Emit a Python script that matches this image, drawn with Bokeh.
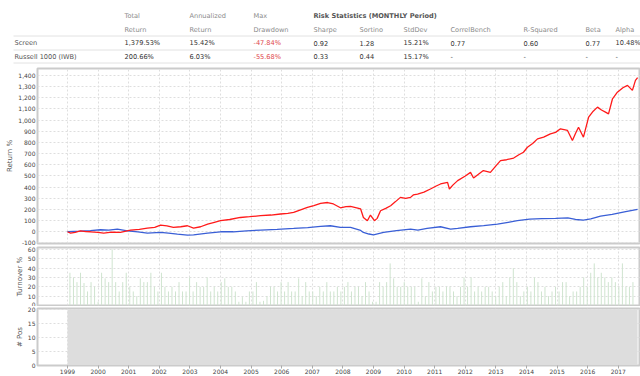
import numpy as np
from bokeh.plotting import figure
from bokeh.layouts import column
from bokeh.models import Range1d, FixedTicker, NumeralTickFormatter, Grid
from bokeh.core.properties import value
from bokeh.embed import file_html
from bokeh.resources import INLINE

FONT = "DejaVu Sans"

# ---------------- data ----------------
YEARS = list(range(1999, 2018))

TABLE_ROWS = ["Screen", "Russell 1000 (IWB)"]
TOTAL_RETURN = ["1,379.53%", "200.66%"]
ANN_RETURN = ["15.42%", "6.03%"]
MAX_DD = ["-47.84%", "-55.68%"]
SHARPE = ["0.92", "0.33"]
SORTINO = ["1.28", "0.44"]
STDDEV = ["15.21%", "15.17%"]
CORREL = ["0.77", "-"]
RSQ = ["0.60", "-"]
BETA = ["0.77", "-"]
ALPHA = ["10.48%", "-"]

SCREEN_T = [1999.00, 1999.10, 1999.25, 1999.42, 1999.60, 1999.75, 2000.00, 2000.18, 2000.45, 2000.73,
            2001.06, 2001.35, 2001.61, 2001.85, 2002.04, 2002.25, 2002.46, 2002.70, 2002.92, 2003.12,
            2003.35, 2003.58, 2003.80, 2004.00, 2004.30, 2004.65, 2004.95, 2005.31, 2005.65, 2005.96,
            2006.20, 2006.39, 2006.55, 2006.84, 2007.05, 2007.27, 2007.50, 2007.69, 2007.92, 2008.10,
            2008.25, 2008.45, 2008.58, 2008.67, 2008.80, 2008.90, 2009.03, 2009.12, 2009.23, 2009.40,
            2009.56, 2009.72, 2009.88, 2010.05, 2010.21, 2010.30, 2010.44, 2010.65, 2010.86, 2011.05,
            2011.19, 2011.42, 2011.48, 2011.60, 2011.75, 2012.00, 2012.17, 2012.27, 2012.45, 2012.59,
            2012.82, 2013.00, 2013.15, 2013.35, 2013.58, 2013.75, 2013.90, 2014.03, 2014.20, 2014.36,
            2014.56, 2014.78, 2014.95, 2015.11, 2015.34, 2015.50, 2015.60, 2015.70, 2015.86, 2016.03,
            2016.18, 2016.32, 2016.45, 2016.58, 2016.68, 2016.81, 2016.97, 2017.15, 2017.30, 2017.46,
            2017.56, 2017.63]
SCREEN_RET = [0, -12, -5, 9, 2, 0, -5, -12, -3, -6,
              15, 22, 33, 40, 60, 52, 39, 45, 54, 33,
              45, 69, 85, 99, 110, 128, 135, 144, 150, 159,
              165, 173, 190, 218, 235, 254, 262, 249, 215, 225,
              228, 215, 204, 128, 99, 150, 99, 120, 188, 210,
              233, 270, 308, 300, 308, 330, 338, 355, 383, 410,
              428, 443, 383, 420, 458, 500, 532, 482, 520, 548,
              532, 590, 637, 645, 660, 690, 712, 757, 790, 832,
              847, 877, 890, 922, 907, 817, 880, 936, 847, 1026,
              1080, 1116, 1090, 1071, 1056, 1191, 1250, 1290, 1311, 1266,
              1356, 1380]

RUSSELL_T = [1999.00, 1999.42, 1999.75, 2000.08, 2000.35, 2000.63, 2000.96, 2001.30, 2001.61, 2002.04,
             2002.30, 2002.59, 2002.92, 2003.12, 2003.58, 2004.00, 2004.42, 2004.85, 2005.31, 2005.85,
             2006.39, 2006.85, 2007.27, 2007.59, 2007.92, 2008.25, 2008.58, 2008.67, 2008.85, 2009.00,
             2009.33, 2009.75, 2010.21, 2010.45, 2010.75, 2011.19, 2011.52, 2011.75, 2012.17, 2012.60,
             2013.05, 2013.40, 2013.70, 2014.10, 2014.50, 2014.95, 2015.35, 2015.60, 2015.86, 2016.10,
             2016.42, 2016.80, 2017.24, 2017.63]
RUSSELL_RET = [0, 5, 10, 18, 15, 24, 9, 0, -12, -5,
               -12, -21, -30, -28, -12, 0, 0, 8, 15, 22,
               30, 38, 48, 54, 39, 39, 12, -6, -20, -27,
               -6, 10, 24, 15, 30, 45, 24, 30, 45, 55,
               69, 85, 99, 114, 118, 120, 125, 110, 105, 115,
               140, 155, 180, 200]

TURNOVER = [35, 30, 25, 35, 24, 15, 25, 20, 4,
            35, 29, 25, 60, 25, 15, 25, 35, 20,
            15, 10, 29, 25, 25, 35, 20, 15,
            35, 20, 15, 20, 15, 25, 15, 15, 30,
            15, 25, 20, 20, 30, 15, 20, 15, 25,
            29, 20, 20, 15, 4, 9, 4, 15,
            15, 25, 4, 5, 10, 20, 20, 15, 25,
            15, 25, 15, 15, 29, 10, 25, 15, 15,
            10, 20, 15, 25, 15, 15, 20, 15,
            20, 25, 15, 20, 20, 10, 25, 15, 4,
            4, 25, 20, 25, 45, 29, 20, 20, 25,
            20, 20, 20, 4, 29, 10, 25, 15,
            20, 20, 15, 20, 20, 15, 10, 20, 30,
            20, 30, 15, 20, 15, 20, 20, 15, 10,
            20, 25, 10, 30, 40, 25, 10, 15,
            20, 15, 30, 25, 15, 20, 10, 15, 20,
            15, 25, 25, 10, 15, 15, 20, 30, 20,
            35, 45, 30, 35, 30, 25, 30, 25,
            20, 45, 20, 20, 25]
TURN_START = 1999.08
TURN_STEP = 42 / 365.25  # rebalance every 6 weeks
TURN_T = [TURN_START + i * TURN_STEP for i in range(len(TURNOVER))]

POS_T = [1999.0, 2017.63]
POS = [20, 20]

RET_TICKS = list(range(-100, 1500, 100))
TURN_TICKS = [0, 10, 20, 30, 40, 50, 60]
POS_TICKS = [0, 5, 10, 15, 20]

# ---------------- layout ----------------
W = 640
LEFT = 37
X0, X1 = 1998.02, 2017.725
GRID_COLOR = "#dedede"
BORDER = "#cbcbcb"


def base_fig(height, y_range, top, bottom, with_xaxis=False):
    p = figure(width=W, height=height, x_range=Range1d(X0, X1), y_range=y_range,
               output_backend="svg", toolbar_location=None,
               x_axis_location="below" if with_xaxis else None)
    p.min_border_left = LEFT
    p.min_border_right = 0
    p.min_border_top = top
    p.min_border_bottom = bottom
    p.outline_line_color = BORDER
    p.outline_line_width = 2
    p.background_fill_color = "white"
    p.border_fill_color = "white"
    p.grid.visible = False
    return p


def style_y(p, label, ticks, fmt=None):
    ax = p.yaxis[0]
    ax.ticker = FixedTicker(ticks=ticks)
    if fmt:
        ax.formatter = fmt
    ax.axis_label = label
    ax.axis_label_text_font = FONT
    ax.axis_label_text_font_size = "7px"
    ax.axis_label_text_font_style = "normal"
    ax.axis_label_text_color = "#555555"
    ax.axis_label_standoff = 1
    ax.major_label_text_font = FONT
    ax.major_label_text_font_size = "6px"
    ax.major_label_text_color = "#444444"
    ax.major_label_standoff = 2
    ax.axis_line_color = None
    ax.major_tick_line_color = None
    ax.major_tick_out = 0
    ax.major_tick_in = 0
    ax.minor_tick_line_color = None
    ax.minor_tick_out = 0
    ax.minor_tick_in = 0
    p.add_layout(Grid(dimension=0, ticker=FixedTicker(ticks=YEARS), grid_line_color=GRID_COLOR,
                      grid_line_dash="2 2", grid_line_width=1))
    p.add_layout(Grid(dimension=1, ticker=FixedTicker(ticks=ticks), grid_line_color=GRID_COLOR,
                      grid_line_dash="2 2", grid_line_width=1))


# ---- statistics table (data coords = page pixels) ----
TH = 66
tbl = figure(width=W, height=TH, x_range=Range1d(0, W), y_range=Range1d(TH, 0),
             output_backend="svg", toolbar_location=None,
             x_axis_location=None, y_axis_location=None)
tbl.frame_align = False
tbl.min_border_left = 0
tbl.min_border_right = 0
tbl.min_border_top = 0
tbl.min_border_bottom = 0
tbl.outline_line_color = None
tbl.grid.visible = False

COLS_X = [124, 189, 253, 313, 359, 403, 450, 523, 585, 615]
H1, H2, R1, R2 = 15.5, 29, 42.5, 56
SEP = [35.5, 49.5, 62.5]
tbl.segment(x0=[13] * 3, x1=[W] * 3, y0=SEP, y1=SEP, line_color="#e2e2e2", line_width=1)

head1 = ["Total", "Annualized", "Max"]
head2 = ["Return", "Return", "Drawdown", "Sharpe", "Sortino", "StdDev", "CorrelBench",
         "R-Squared", "Beta", "Alpha"]
common = dict(text_font=value(FONT), text_font_size=value("6.6px"), text_baseline="middle",
              text_align="left")
tbl.text(x=COLS_X[:3], y=[H1] * 3, text=head1, text_color="#8a8a8a", **common)
tbl.text(x=[COLS_X[3]], y=[H1], text=["Risk Statistics (MONTHLY Period)"], text_color="#555555",
         text_font_style="bold", **common)
tbl.text(x=COLS_X, y=[H2] * len(COLS_X), text=head2, text_color="#8a8a8a", **common)
tbl.text(x=[14, 14], y=[R1, R2], text=TABLE_ROWS, text_color="#555555", **common)
cols = [TOTAL_RETURN, ANN_RETURN, MAX_DD, SHARPE, SORTINO, STDDEV, CORREL, RSQ, BETA, ALPHA]
for cx, vals in zip(COLS_X, cols):
    color = "#e0474c" if vals is MAX_DD else "#333333"
    tbl.text(x=[cx, cx], y=[R1, R2], text=vals, text_color=color, **common)

# ---- main return chart ----
main = base_fig(179, Range1d(-105, 1462), 2, 2)
style_y(main, "Return %", RET_TICKS, NumeralTickFormatter(format="0,0"))
main.line(RUSSELL_T, RUSSELL_RET, line_color="#3a5fd6", line_width=1.3)
main.line(SCREEN_T, SCREEN_RET, line_color="#ff1a1a", line_width=1.3)

# ---- turnover ----
turn = base_fig(61, Range1d(0, 62), 2, 1)
style_y(turn, "Turnover %", TURN_TICKS)
turn.segment(x0=TURN_T, x1=TURN_T, y0=[0] * len(TURNOVER), y1=TURNOVER,
             line_color="#cfe4cf", line_width=1)

# ---- positions ----
pos = base_fig(70, Range1d(0, 20.4), 2, 0, with_xaxis=True)
style_y(pos, "# Pos", POS_TICKS)
pos.varea(x=POS_T, y1=[0, 0], y2=POS, fill_color="#dddddd")
xa = pos.xaxis[0]
xa.ticker = FixedTicker(ticks=YEARS)
xa.major_label_text_font = FONT
xa.major_label_text_font_size = "6px"
xa.major_label_text_color = "#444444"
xa.major_label_standoff = 0
xa.axis_line_color = BORDER
xa.major_tick_line_color = "#aaaaaa"
xa.major_tick_out = 3
xa.major_tick_in = 0
xa.minor_tick_line_color = None
xa.minor_tick_out = 0
xa.minor_tick_in = 0

layout = column(tbl, main, turn, pos, spacing=0)
open("out.html", "w").write(file_html(layout, INLINE))
